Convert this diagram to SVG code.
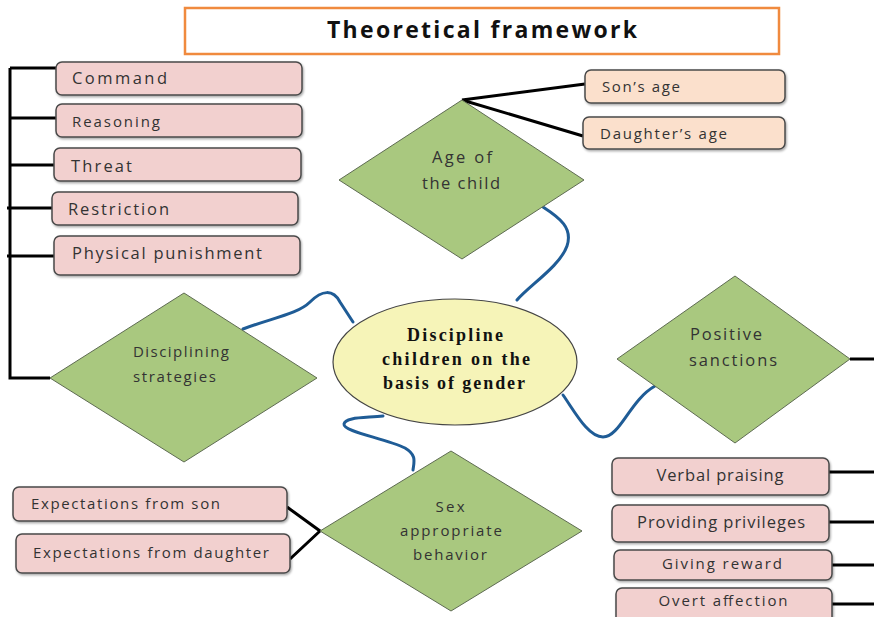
<svg xmlns="http://www.w3.org/2000/svg" width="874" height="617" viewBox="0 0 874 617">
<defs>
<filter id="sh" x="-5%" y="-10%" width="110%" height="130%"><feDropShadow dx="1" dy="1.5" stdDeviation="1" flood-color="#000" flood-opacity="0.35"/></filter>
</defs>
<style>
.box{fill:#f2d0cf;stroke:#4a4a4a;stroke-width:1.5;filter:url(#sh)}
.peach{fill:#fbe0cc;stroke:#4a4a4a;stroke-width:1.5;filter:url(#sh)}
.dia{fill:#a9c87f;stroke:#5e6b52;stroke-width:1}
.t{font-family:"Open Sans","Liberation Sans",sans-serif;font-size:16.5px;fill:#333}
.s{font-size:15px}
.c{text-anchor:middle}
.blk{fill:none;stroke:#000;stroke-width:3}
.blue{fill:none;stroke:#1f5c96;stroke-width:3;stroke-linecap:round}
.ser{font-family:"Liberation Serif",serif;font-weight:bold;font-size:18px;fill:#111;text-anchor:middle}
</style>
<rect width="874" height="617" fill="#fff"/>
<g id="title">
<rect x="185" y="8" width="594" height="46" fill="#fff" stroke="#f08a3e" stroke-width="2.5"/>
<text x="482" y="38" class="c" font-family="'Open Sans','Liberation Sans',sans-serif" font-weight="bold" font-size="23" fill="#111" textLength="310" lengthAdjust="spacing">Theoretical framework</text>
</g>
<g id="connectors">
<path class="blk" d="M10,68 V378 H50"/>
<path class="blk" d="M10,68 H58 M10,118 H57 M10,165 H56 M7,208 H54 M7,256 H56"/>
<path class="blk" d="M462,100 L585,84 M462,100 L583,136"/>
<path class="blk" d="M287,507 L320,531 L290,559"/>
<path class="blk" d="M850,359 H874"/>
<path class="blk" d="M829,472 H874 M829,522 H874 M832,565 H874 M832,604 H874"/>
<path class="blue" d="M543,207 C560,218 573,228 567,246 C560,266 530,285 517,300"/>
<path class="blue" d="M243,329 C272,318 298,314 310,302 C322,290 333,289 340,302 L353,322"/>
<path class="blue" d="M563,395 C575,412 588,437 603,437 C620,437 630,400 655,386"/>
<path class="blue" d="M383,416 C365,418 345,417 344,424 C343,432 385,438 405,448 C417,455 414,462 413,470"/>
</g>
<g id="command"><rect class="box" x="56" y="62" width="246" height="33" rx="6"/><text class="t" x="72" y="84" textLength="95" lengthAdjust="spacing">Command</text></g>
<g id="reasoning"><rect class="box" x="56" y="104" width="246" height="33" rx="6"/><text class="t s" x="72" y="127" textLength="88" lengthAdjust="spacing">Reasoning</text></g>
<g id="threat"><rect class="box" x="54" y="148" width="247" height="33" rx="6"/><text class="t" x="71" y="172" textLength="61" lengthAdjust="spacing">Threat</text></g>
<g id="restriction"><rect class="box" x="52" y="192" width="246" height="33" rx="6"/><text class="t" x="68" y="215" textLength="101" lengthAdjust="spacing">Restriction</text></g>
<g id="physical"><rect class="box" x="54" y="236" width="246" height="39" rx="6"/><text class="t" x="72" y="259" textLength="190" lengthAdjust="spacing">Physical punishment</text></g>
<g id="sons-age"><rect class="peach" x="585" y="70" width="200" height="33" rx="6"/><text class="t s" x="602" y="92" textLength="78" lengthAdjust="spacing">Son’s age</text></g>
<g id="daughters-age"><rect class="peach" x="583" y="117" width="202" height="32" rx="6"/><text class="t s" x="600" y="139" textLength="127" lengthAdjust="spacing">Daughter’s age</text></g>
<g id="age"><polygon class="dia" points="462,100 584,180 462,259 339,180"/><text class="t c" x="462" y="163" textLength="60" lengthAdjust="spacing">Age of</text><text class="t c" x="461" y="189" textLength="78" lengthAdjust="spacing">the child</text></g>
<g id="disciplining"><polygon class="dia" points="184,293 317,378 184,462 50,378"/><text class="t s" x="133" y="357" textLength="96" lengthAdjust="spacing">Disciplining</text><text class="t s" x="133" y="382" textLength="83" lengthAdjust="spacing">strategies</text></g>
<g id="center"><ellipse cx="455" cy="362" rx="122" ry="63" fill="#f6f4b8" stroke="#444" stroke-width="1.2"/><text class="ser" x="455" y="341" textLength="96" lengthAdjust="spacing">Discipline</text><text class="ser" x="456" y="365" textLength="148" lengthAdjust="spacing">children on the</text><text class="ser" x="454" y="389" textLength="142" lengthAdjust="spacing">basis of gender</text></g>
<g id="positive"><polygon class="dia" points="735,276 850,359 735,443 617,359"/><text class="t" x="690" y="340" textLength="72" lengthAdjust="spacing">Positive</text><text class="t" x="689" y="366" textLength="88" lengthAdjust="spacing">sanctions</text></g>
<g id="sex"><polygon class="dia" points="451,451 582,531 451,611 320,531"/><text class="t s c" x="450" y="512" textLength="29" lengthAdjust="spacing">Sex</text><text class="t s c" x="451" y="536" textLength="102" lengthAdjust="spacing">appropriate</text><text class="t s c" x="450" y="560" textLength="74" lengthAdjust="spacing">behavior</text></g>
<g id="exp-son"><rect class="box" x="13" y="487" width="274" height="34" rx="6"/><text class="t s" x="31" y="509" textLength="189" lengthAdjust="spacing">Expectations from son</text></g>
<g id="exp-daughter"><rect class="box" x="16" y="534" width="274" height="39" rx="6"/><text class="t s" x="33" y="558" textLength="236" lengthAdjust="spacing">Expectations from daughter</text></g>
<g id="verbal"><rect class="box" x="612" y="458" width="217" height="37" rx="6"/><text class="t c" x="720" y="481" textLength="127" lengthAdjust="spacing">Verbal praising</text></g>
<g id="privileges"><rect class="box" x="612" y="505" width="217" height="37" rx="6"/><text class="t c" x="721" y="528" textLength="168" lengthAdjust="spacing">Providing privileges</text></g>
<g id="reward"><rect class="box" x="614" y="550" width="218" height="30" rx="6"/><text class="t s c" x="722" y="569" textLength="120" lengthAdjust="spacing">Giving reward</text></g>
<g id="affection"><rect class="box" x="616" y="588" width="216" height="36" rx="6"/><text class="t s c" x="723" y="606" textLength="129" lengthAdjust="spacing">Overt affection</text></g>
</svg>
